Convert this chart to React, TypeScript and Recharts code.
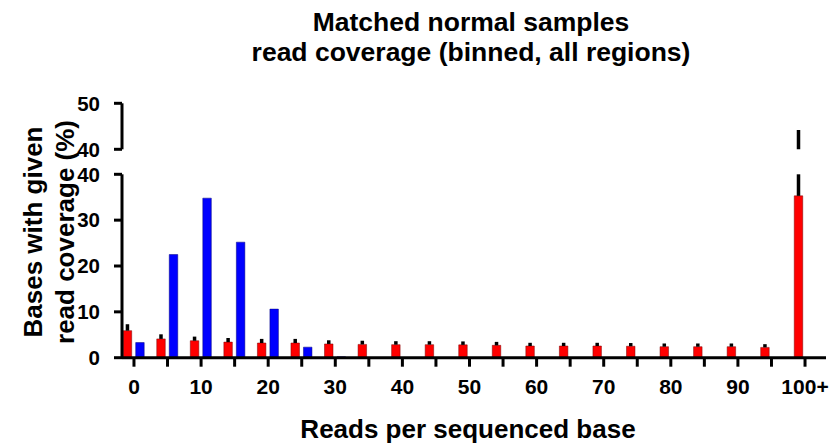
import { BarChart, Bar, XAxis, YAxis, ErrorBar } from "recharts";

const categories = [
  "0", "5", "10", "15", "20", "25", "30", "35", "40", "45", "50",
  "55", "60", "65", "70", "75", "80", "85", "90", "95", "100+",
];
// mean % of bases per bin (red = matched normal, blue = reference)
const redMean = [
  5.9, 4.1, 3.7, 3.4, 3.2, 3.2, 3.0, 2.9, 2.85, 2.85, 2.8,
  2.7, 2.55, 2.55, 2.55, 2.5, 2.4, 2.4, 2.4, 2.25, 35.3,
];
// upward error (SD)
const redSd = [
  1.4, 1.0, 0.9, 0.9, 0.9, 0.9, 0.8, 0.8, 0.75, 0.75, 0.75,
  0.75, 0.7, 0.7, 0.7, 0.7, 0.7, 0.7, 0.7, 0.7, 8.9,
];
const blueMean = [
  3.3, 22.5, 34.8, 25.2, 10.6, 2.3, 0.2, null, null, null, null,
  null, null, null, null, null, null, null, null, null, null,
];
const xTickLabels = ["0", "10", "20", "30", "40", "50", "60", "70", "80", "90", "100+"];
const lowerTicks = [0, 10, 20, 30, 40];
const upperTicks = [40, 45, 50];
const BREAK = 40;

// lower segment: error bar stops at the break
const lowerData = categories.map((bin, i) => ({
  bin,
  red: redMean[i],
  redErr: [0, Math.min(redMean[i] + redSd[i], BREAK) - redMean[i]],
  blue: blueMean[i],
}));

// upper segment: only what rises above the break
// (base sits a hair above the break so the bar is not dropped as empty)
const upperBase = BREAK + 0.01;
const upperData = categories.map((bin, i) => {
  const top = redMean[i] + redSd[i];
  return {
    bin,
    red: top > BREAK ? upperBase : null,
    redErr: top > BREAK ? [0, top - upperBase] : [0, 0],
    blue: null,
  };
});

const FONT = "'Liberation Sans', Arial, Helvetica, sans-serif";
const W = 833;
const H = 444;
const axisStroke = { stroke: "#000", strokeWidth: 3 };
const xPadding = { left: -4.8, right: 4.2 };
const tickFont = { fill: "#000", fontWeight: 700, fontFamily: FONT };

export default function App() {
  return (
    <div
      style={{
        position: "absolute",
        left: 0,
        top: 0,
        width: W,
        height: H,
        background: "#fff",
        overflow: "hidden",
      }}
    >
      <svg
        width={W}
        height={H}
        style={{ position: "absolute", left: 0, top: 0 }}
        fontFamily={FONT}
        fontWeight={700}
        fill="#000"
      >
        <text x={471} y={31} fontSize={26.5} textAnchor="middle">
          Matched normal samples
        </text>
        <text x={471} y={61} fontSize={26.5} textAnchor="middle">
          read coverage (binned, all regions)
        </text>
        <text x={468} y={438} fontSize={26} textAnchor="middle">
          Reads per sequenced base
        </text>
        <g transform="translate(42,232) rotate(-90)">
          <text x={0} y={0} fontSize={26} textAnchor="middle">
            Bases with given
          </text>
        </g>
        <g transform="translate(74,232) rotate(-90)">
          <text x={0} y={0} fontSize={26} textAnchor="middle">
            read coverage (%)
          </text>
        </g>
      </svg>

      {/* lower segment 0-40 */}
      <div style={{ position: "absolute", left: 0, top: 0 }}>
        <BarChart
          width={W}
          height={H}
          data={lowerData}
          margin={{ top: 174.3, right: 7, bottom: 46.3, left: 62 }}
          barSize={8.5}
          barGap={4}
        >
          <XAxis
            dataKey="bin"
            interval={0}
            padding={xPadding}
            height={40}
            tickSize={9}
            tickMargin={12}
            axisLine={axisStroke}
            tickLine={axisStroke}
            tickFormatter={(v: string) => (xTickLabels.includes(v) ? v : "")}
            tick={{ ...tickFont, fontSize: 21 }}
          />
          <YAxis
            width={60}
            domain={[0, BREAK]}
            ticks={lowerTicks}
            allowDataOverflow
            tickSize={8}
            tickMargin={14}
            axisLine={axisStroke}
            tickLine={axisStroke}
            tick={{ ...tickFont, fontSize: 20.5 }}
          />
          <Bar dataKey="red" fill="#ff0000" stroke="#7a0000" strokeWidth={0.5} isAnimationActive={false}>
            <ErrorBar dataKey="redErr" width={0} stroke="#000" strokeWidth={3.5} direction="y" />
          </Bar>
          <Bar dataKey="blue" fill="#0000ff" stroke="#00007a" strokeWidth={0.5} isAnimationActive={false} />
        </BarChart>
      </div>

      {/* upper segment 40-50 */}
      <div style={{ position: "absolute", left: 0, top: 0 }}>
        <BarChart
          width={W}
          height={H}
          data={upperData}
          margin={{ top: 103.3, right: 7, bottom: 294.7, left: 62 }}
          barSize={8.5}
          barGap={4}
        >
          <XAxis dataKey="bin" hide interval={0} padding={xPadding} />
          <YAxis
            width={60}
            domain={[BREAK, 50]}
            ticks={upperTicks}
            allowDataOverflow
            tickSize={8}
            tickMargin={14}
            axisLine={axisStroke}
            tickLine={axisStroke}
            tick={{ ...tickFont, fontSize: 20.5 }}
          />
          <Bar dataKey="red" fill="none" stroke="none" isAnimationActive={false}>
            <ErrorBar dataKey="redErr" width={0} stroke="#000" strokeWidth={3.5} direction="y" />
          </Bar>
          <Bar dataKey="blue" fill="none" stroke="none" isAnimationActive={false} />
        </BarChart>
      </div>
    </div>
  );
}
